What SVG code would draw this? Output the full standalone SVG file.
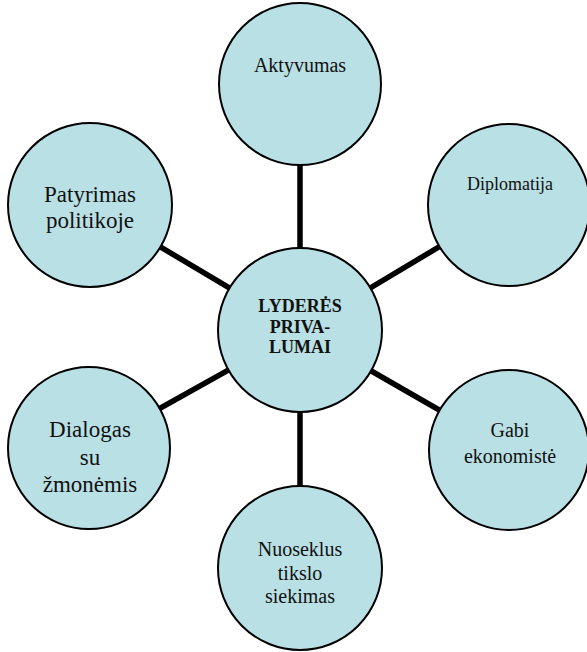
<svg xmlns="http://www.w3.org/2000/svg" width="587" height="652" viewBox="0 0 587 652">
<style>
.node circle{fill:#b9e0e4;stroke:#000;stroke-width:2}
.node text{font-family:'Liberation Serif','DejaVu Serif',serif;fill:#111;text-anchor:middle}
.conn line{stroke:#000;stroke-width:5.5}
.c text{font-weight:bold;font-size:18px}
</style>
<rect width="587" height="652" fill="#fff"/>
<g id="connectors" class="conn">
<line x1="300" y1="330" x2="300" y2="84"/>
<line x1="300" y1="330" x2="300" y2="568"/>
<line x1="300" y1="330" x2="90" y2="205"/>
<line x1="300" y1="330" x2="509" y2="205"/>
<line x1="300" y1="330" x2="89" y2="448"/>
<line x1="300" y1="330" x2="509" y2="450"/>
</g>
<g id="center" class="node c">
<circle cx="300" cy="330" r="82"/>
<text x="300" y="312">LYDERĖS</text>
<text x="300" y="333">PRIVA-</text>
<text x="300" y="353">LUMAI</text>
</g>
<g id="aktyvumas" class="node">
<circle cx="300" cy="84" r="81"/>
<text x="300" y="72" font-size="20">Aktyvumas</text>
</g>
<g id="diplomatija" class="node">
<circle cx="509" cy="205" r="81"/>
<text x="510" y="190" font-size="18">Diplomatija</text>
</g>
<g id="patyrimas" class="node">
<circle cx="90" cy="205" r="82"/>
<text x="90" y="202" font-size="23">Patyrimas</text>
<text x="90" y="228" font-size="23">politikoje</text>
</g>
<g id="dialogas" class="node">
<circle cx="89" cy="448" r="81"/>
<text x="90" y="437" font-size="23">Dialogas</text>
<text x="90" y="465" font-size="23">su</text>
<text x="90" y="492" font-size="23">žmonėmis</text>
</g>
<g id="gabi" class="node">
<circle cx="509" cy="450" r="80"/>
<text x="510" y="437" font-size="20">Gabi</text>
<text x="510" y="463" font-size="20">ekonomistė</text>
</g>
<g id="nuoseklus" class="node">
<circle cx="300" cy="568" r="82"/>
<text x="300" y="556" font-size="20">Nuoseklus</text>
<text x="300" y="580" font-size="20">tikslo</text>
<text x="300" y="603" font-size="20">siekimas</text>
</g>
</svg>
